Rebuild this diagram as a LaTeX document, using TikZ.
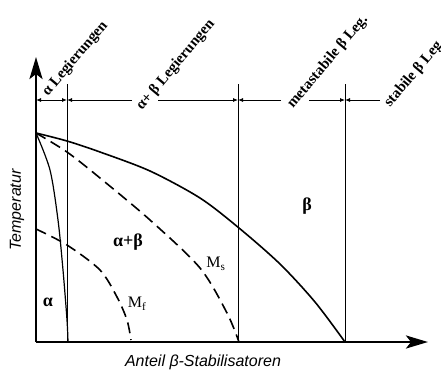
\documentclass[tikz,border=0pt]{standalone}
\usepackage{fontspec}
\setmainfont{Liberation Serif}
\newfontfamily\arialf{Liberation Sans}
\usetikzlibrary{arrows.meta}
\begin{document}
\begin{tikzpicture}[x=1pt,y=-1pt,
  axis/.style={line width=2.6pt,-{Stealth[length=22pt,width=13pt,inset=5pt]}},
  vline/.style={line width=0.9pt},
  curve/.style={line width=1.6pt},
  thincurve/.style={line width=1.2pt},
  dcurve/.style={line width=1.6pt,dash pattern=on 11pt off 6pt},
  dim/.style={line width=0.8pt},
  dimarr/.style={dim,-{Latex[length=5pt,width=4pt]}},
  rlab/.style={font=\bfseries\fontsize{15}{17}\selectfont,rotate=50,anchor=base west,inner sep=0pt},
  region/.style={font=\bfseries\fontsize{18}{20}\selectfont},
  mlab/.style={font=\fontsize{16}{18}\selectfont},
  axlab/.style={font=\arialf\itshape\fontsize{16}{18}\selectfont}]
\useasboundingbox (0,0) rectangle (441,373);
% axes
\coordinate (O) at (36,342);
\coordinate (Ytop) at (36,57);
\coordinate (Xend) at (428,342);
\draw[axis] (O) -- (Ytop);
\draw[axis] (O) -- (Xend);
% vertical boundaries
\coordinate (v1t) at (67,84); \coordinate (v1b) at (67,342);
\coordinate (v2t) at (238,84); \coordinate (v2b) at (238,342);
\coordinate (v3t) at (345,84); \coordinate (v3b) at (345,342);
\draw[vline] (v1t) -- (v1b);
\draw[vline] (v2t) -- (v2b);
\draw[vline] (v3t) -- (v3b);
% dimension lines
\coordinate (d0) at (36,100);
\coordinate (d1) at (67,100);
\coordinate (d2) at (238,100);
\coordinate (d3) at (345,100);
\coordinate (g1a) at (132,100); \coordinate (g1b) at (158,100);
\coordinate (g2a) at (281,100); \coordinate (g2b) at (309,100);
\coordinate (g3a) at (380,100);
\draw[dim,{Latex[length=5pt,width=4pt]}-{Latex[length=5pt,width=4pt]}] (d0) -- (d1);
\draw[dimarr] (g1a) -- (d1);
\draw[dimarr] (g1b) -- (d2);
\draw[dimarr] (g2a) -- (d2);
\draw[dimarr] (g2b) -- (d3);
\draw[dimarr] (g3a) -- (d3);
% rotated labels
\node[rlab] (l1) at (48,97) {α Legierungen};
\node[rlab] (l2) at (142,111) {α+ β Legierungen};
\node[rlab] (l3) at (293,109) {metastabile β Leg.};
\node[rlab] (l4) at (390,108) {stabile β Leg.};
% curves
\draw[curve] plot[smooth] coordinates {(36,133) (67,141) (100,152) (150,171) (200,198) (239,228) (280,264) (315,302) (345,342)};
\draw[thincurve] plot[smooth] coordinates {(36,133) (50,170) (58,220) (63,270) (67,320) (68,342)};
\draw[dcurve] plot[smooth] coordinates {(36,133) (67,152) (100,178) (150,220) (200,268) (227,313) (239,342)};
\draw[dcurve] plot[smooth] coordinates {(36,229) (67,245) (100,270) (117,297) (127,320) (131,340)};
% region labels
\node[region] (a) at (48,302) {α};
\node[region] (ab) at (128,242) {α+β};
\node[region] (b) at (307,206) {β};
\node[mlab] (ms) at (216,264) {M\textsubscript{s}};
\node[mlab] (mf) at (137,304) {M\textsubscript{f}};
% axis labels
\node[axlab,rotate=90] (yl) at (17,210) {Temperatur};
\node[axlab] (xl) at (203,362) {Anteil β-Stabilisatoren};
\end{tikzpicture}
\end{document}
